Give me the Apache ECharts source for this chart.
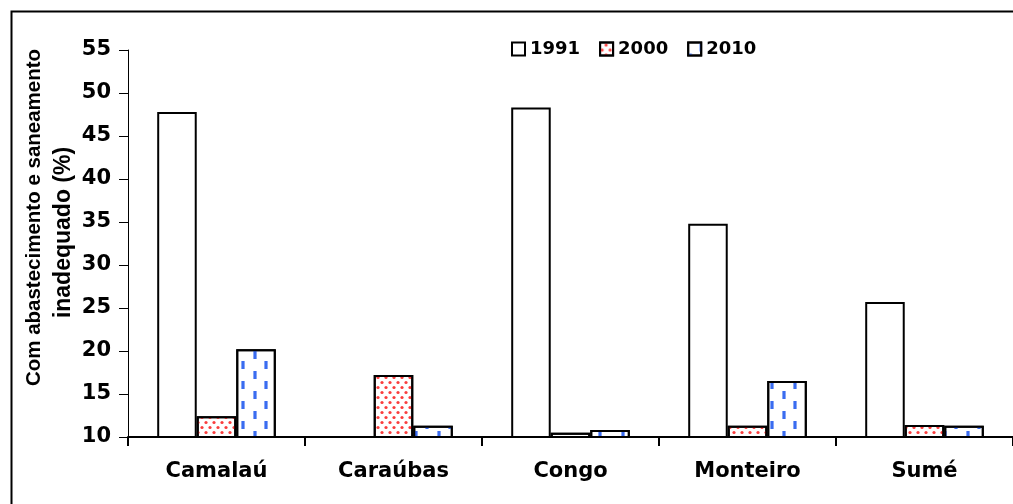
<!DOCTYPE html>
<html>
<head>
    <meta charset="utf-8">
    <title>Abastecimento e saneamento</title>
    <script src="https://cdn.jsdelivr.net/npm/echarts@6/dist/echarts.min.js"></script>
</head>
<body style="margin:0;background:#fff;">
    <div id="main" style="width:1013px;height:504px;"></div>
    <script type="text/javascript">
        // dados
        var municipios = ['Camalaú', 'Caraúbas', 'Congo', 'Monteiro', 'Sumé'];
        var v1991 = [47.8, '-', 48.3, 34.8, 25.7];
        var v2000 = [12.4, 17.2, 10.5, 11.3, 11.4];
        var v2010 = [20.2, 11.3, 10.8, 16.5, 11.3];

        var myChart = echarts.init(document.getElementById('main'));

        var fonte = 'DejaVu Sans, sans-serif';
        var fonteNome = 'Liberation Sans, Arial, sans-serif';

        var option = {
            animation: false,
            backgroundColor: '#fff',
            graphic: [{
                type: 'rect',
                left: 9,
                top: 9,
                shape: { width: 1010, height: 510 },
                style: { fill: 'none', stroke: '#000', lineWidth: 2 },
                silent: true
            }],
            grid: {
                left: 128,
                right: 0,
                top: 50,
                bottom: 67,
                outerBoundsMode: 'none'
            },
            legend: {
                top: 35,
                left: 506,
                icon: 'rect',
                itemWidth: 13,
                itemHeight: 13,
                itemGap: 19,
                textStyle: { fontFamily: fonte, fontSize: 18, fontWeight: 'bold', color: '#000' },
                data: ['1991', '2000', '2010']
            },
            xAxis: {
                type: 'category',
                data: municipios,
                axisLine: { lineStyle: { color: '#000', width: 2 } },
                axisTick: { show: true, length: 9, lineStyle: { color: '#000', width: 2 } },
                axisLabel: { margin: 24, fontFamily: fonte, fontSize: 21, fontWeight: 'bold', color: '#000' }
            },
            yAxis: {
                type: 'value',
                min: 10,
                max: 55,
                interval: 5,
                name: '{a|Com abastecimento e saneamento}\n{b|inadequado (%)}',
                nameLocation: 'middle',
                nameGap: 49,
                nameMoveOverlap: false,
                nameRotate: 90,
                nameTextStyle: {
                    fontFamily: fonteNome,
                    fontWeight: 'bold', color: '#000',
                    padding: [0, 0, 0, 22],
                    rich: {
                        a: { fontFamily: fonteNome, fontSize: 20.5, fontWeight: 'bold', color: '#000', lineHeight: 30, padding: [0, 0, 0, 30] },
                        b: { fontFamily: fonteNome, fontSize: 23, fontWeight: 'bold', color: '#000', lineHeight: 30 }
                    }
                },
                splitLine: { show: false },
                axisLine: { show: true, lineStyle: { color: '#000', width: 1 } },
                axisTick: { show: true, length: 9, lineStyle: { color: '#000' } },
                axisLabel: { margin: 17, fontFamily: fonte, fontSize: 21, fontWeight: 'bold', color: '#000' }
            },
            series: [{
                name: '1991',
                type: 'bar',
                data: v1991,
                barGap: 0,
                barCategoryGap: '33%',
                itemStyle: { color: '#fff', borderColor: '#000', borderWidth: 2 }
            }, {
                name: '2000',
                type: 'bar',
                data: v2000,
                itemStyle: {
                    color: '#fff',
                    borderColor: '#000',
                    borderWidth: 2,
                    decal: {
                        symbol: 'circle',
                        symbolSize: 0.8,
                        color: 'rgba(250,40,40,0.9)',
                        dashArrayX: [[4, 4], [0, 4, 4, 0]],
                        dashArrayY: [5, 0]
                    }
                }
            }, {
                name: '2010',
                type: 'bar',
                data: v2010,
                itemStyle: {
                    color: '#fff',
                    borderColor: '#000',
                    borderWidth: 2,
                    decal: {
                        symbol: 'rect',
                        symbolSize: 0.8,
                        symbolKeepAspect: false,
                        color: '#3a6cf0',
                        dashArrayX: [[3.5, 18.5], [0, 11, 3.5, 7.5]],
                        dashArrayY: [10, 0]
                    }
                }
            }]
        };

        myChart.setOption(option);
    </script>
</body>
</html>
